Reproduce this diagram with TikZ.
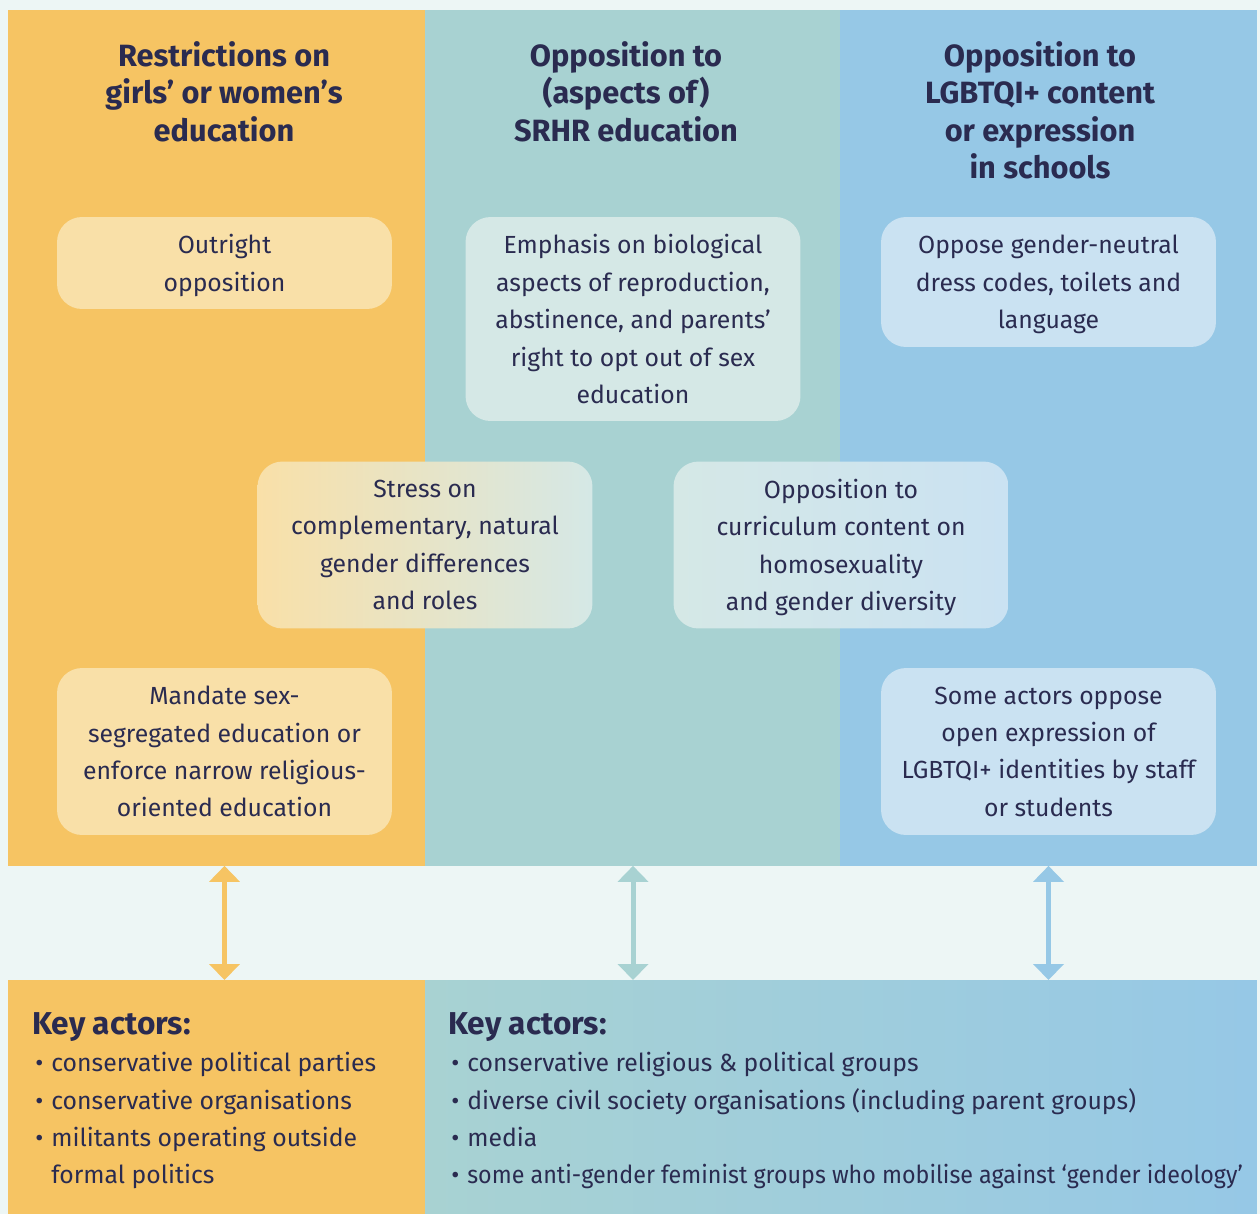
\documentclass[tikz,border=0pt]{standalone}
\usepackage{fontspec}
\setmainfont{Fira Sans}
\usepackage{tikz}
\usetikzlibrary{arrows.meta}
\definecolor{ink}{HTML}{2A2B50}
\definecolor{pagebg}{HTML}{EDF6F5}
\definecolor{myorange}{HTML}{F6C463}
\definecolor{myteal}{HTML}{A8D2D2}
\definecolor{myblue}{HTML}{96C8E6}
\definecolor{lightorange}{HTML}{F9E0A8}
\definecolor{lightteal}{HTML}{D5E8E6}
\definecolor{lightblue}{HTML}{CAE2F2}
\newcommand{\bodyfont}{\fontsize{14.1pt}{21.3pt}\selectfont}
\newcommand{\headfont}{\fontsize{17.5pt}{21.3pt}\selectfont\bfseries}
\newcommand{\keyfont}{\fontsize{18pt}{21.3pt}\selectfont\bfseries}
\newcommand{\keyitem}{\hspace*{0.06cm}\makebox[0.32cm][l]{\textbullet}}
\tikzstyle{column} = [rectangle, inner sep=0pt, outer sep=0pt, anchor=north west, minimum height=17.12cm]
\tikzstyle{head} = [align=center, anchor=north, inner sep=0pt, text=ink, font=\headfont]
\tikzstyle{block} = [rectangle, rounded corners=0.5cm, align=center, minimum width=6.7cm, text=ink, font=\bodyfont, inner sep=0pt, text depth=-10pt]
\tikzstyle{keybox} = [rectangle, inner sep=0pt, outer sep=0pt, anchor=north west, minimum height=4.68cm]
\tikzstyle{keytext} = [align=left, anchor=north west, inner sep=0pt, text=ink, font=\bodyfont]
\tikzstyle{line} = [draw, line width=0.1cm, {Triangle[width=0.6cm,length=0.32cm]}-{Triangle[width=0.6cm,length=0.32cm]}]

\begin{document}
\begin{tikzpicture}[x=0.02cm, y=-0.02cm]
    \fill [pagebg] (0,0) rectangle (1260,1214);
    \useasboundingbox (0,0) rectangle (1260,1214);

    % Columns
    \node [column, fill=myorange, minimum width=8.34cm] (girls) at (8,10) {};
    \node [column, fill=myteal, minimum width=8.3cm] (srhr) at (425,10) {};
    \node [column, fill=myblue, minimum width=8.34cm] (lgbt) at (840,10) {};

    % Headings
    \node [head] (girlshead) at (224,41) {Restrictions on\\girls’ or women’s\\education};
    \node [head] (srhrhead) at (626,41) {Opposition to\\(aspects of)\\SRHR education};
    \node [head] (lgbthead) at (1040,41) {Opposition to\\LGBTQI+ content\\or expression\\in schools};

    % Nodes
    \node [block, fill=lightorange, minimum height=1.84cm] (outright) at (224.5,263) {Outright\\opposition};
    \node [block, fill=lightteal, minimum height=4.08cm] (emphasis) at (633,319) {Emphasis on biological\\aspects of reproduction,\\abstinence, and parents’\\right to opt out of sex\\education};
    \node [block, fill=lightblue, minimum height=2.6cm] (dress) at (1048.5,282) {Oppose gender-neutral\\dress codes, toilets and\\language};
    \node [block, left color=lightorange, right color=lightteal, minimum height=3.34cm] (stress) at (425,545) {Stress on\\complementary, natural\\gender differences\\and roles};
    \node [block, left color=lightteal, right color=lightblue, minimum height=3.34cm] (curriculum) at (841,545) {Opposition to\\curriculum content on\\homosexuality\\and gender diversity};
    \node [block, fill=lightorange, minimum height=3.34cm] (mandate) at (224.5,751.5) {Mandate sex-\\segregated education or\\enforce narrow religious-\\oriented education};
    \node [block, fill=lightblue, minimum height=3.34cm] (someactors) at (1048.5,751.5) {Some actors oppose\\open expression of\\LGBTQI+ identities by staff\\or students};

    % Key actors
    \node [keybox, fill=myorange, minimum width=8.34cm] (keygirls) at (8,980) {};
    \node [keybox, left color=myteal, right color=myblue, minimum width=16.64cm] (keyrest) at (425,980) {};
    \node [keytext] (girlsactors) at (32,1012) {{\keyfont Key actors:}\\
        \keyitem conservative political parties\\
        \keyitem conservative organisations\\
        \keyitem militants operating outside\\
        \hspace*{0.38cm}formal politics};
    \node [keytext] (restactors) at (448,1012) {{\keyfont Key actors:}\\
        \keyitem conservative religious \& political groups\\
        \keyitem diverse civil society organisations (including parent groups)\\
        \keyitem media\\
        \keyitem \scalebox{0.94}[1]{some anti-gender feminist groups who mobilise against ‘gender ideology’}};

    % arrows
    \draw [line, myorange] (mandate.south |- girls.south) -- (mandate.south |- keygirls.north);
    \draw [line, myteal] (emphasis.south |- srhr.south) -- (emphasis.south |- keyrest.north);
    \draw [line, myblue] (someactors.south |- lgbt.south) -- (someactors.south |- keyrest.north);
\end{tikzpicture}
\end{document}
